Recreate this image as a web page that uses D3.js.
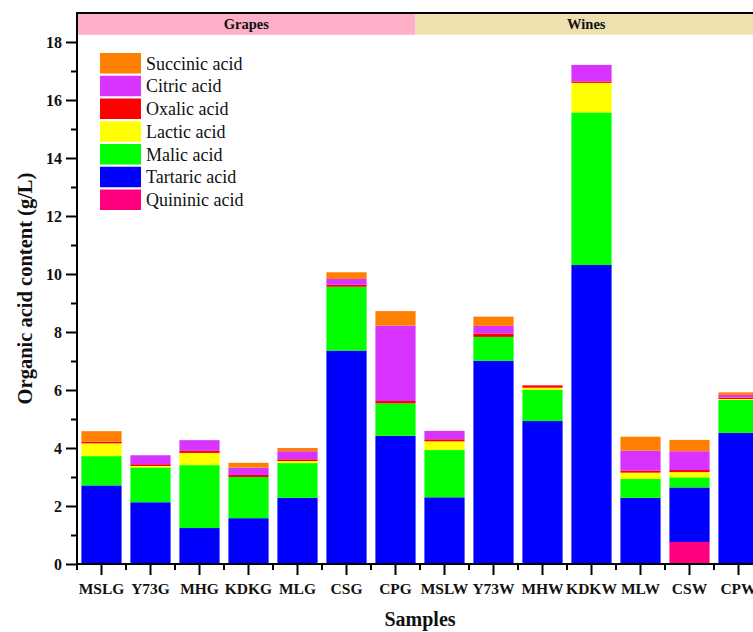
<!DOCTYPE html>
<html>
<head>
<meta charset="utf-8">
<script src="https://cdn.jsdelivr.net/npm/d3@7"></script>
<style>
  html, body { margin: 0; padding: 0; background: #fff; }
  svg { display: block; }
</style>
</head>
<body>
<svg id="chart" width="753" height="632"></svg>
<script>
// ---- Data ----
const samples = ["MSLG","Y73G","MHG","KDKG","MLG","CSG","CPG","MSLW","Y73W","MHW","KDKW","MLW","CSW","CPW"];
const groups = [
  { name: "Grapes", first: "MSLG", last: "CPG" },
  { name: "Wines",  first: "MSLW", last: "CPW" }
];
const acids = ["Quininic acid","Tartaric acid","Malic acid","Lactic acid","Oxalic acid","Citric acid","Succinic acid"];
const acidColors = ["#FF0080","#0000FF","#00FF00","#FFFF00","#FF0000","#D833FF","#FF8000"];

const quininic  = [0,    0,    0,    0,    0,    0,    0,    0.02, 0,    0,    0,     0,    0.76, 0.02];
const tartaric  = [2.71, 2.13, 1.24, 1.58, 2.28, 7.36, 4.42, 2.28, 7.01, 4.93, 10.31, 2.28, 1.88, 4.50];
const malic     = [1.01, 1.20, 2.17, 1.42, 1.20, 2.20, 1.12, 1.63, 0.82, 1.07, 5.26,  0.65, 0.35, 1.14];
const lactic    = [0.44, 0.05, 0.42, 0,    0.07, 0,    0,    0.30, 0,    0.08, 1.02,  0.22, 0.18, 0.03];
const oxalic    = [0.06, 0.06, 0.07, 0.07, 0.06, 0.07, 0.08, 0.07, 0.12, 0.08, 0.05,  0.07, 0.07, 0.05];
const citric    = [0,    0.31, 0.37, 0.25, 0.28, 0.20, 2.60, 0.29, 0.26, 0,    0.57,  0.69, 0.65, 0.09];
const succinic  = [0.36, 0,    0,    0.17, 0.11, 0.23, 0.50, 0,    0.32, 0,    0,     0.48, 0.39, 0.09];

const yTicks = [0,2,4,6,8,10,12,14,16,18];
const yMinorTicks = [1,3,5,7,9,11,13,15,17];
const yMax = 19;
const bandLow = 18.25;

const seriesValues = [quininic, tartaric, malic, lactic, oxalic, citric, succinic];
const rows = samples.map((s, i) => {
  const r = { sample: s };
  acids.forEach((a, k) => r[a] = seriesValues[k][i]);
  return r;
});

// ---- Layout ----
const svg = d3.select("#chart");
const pL = 77, pR = 763, pT = 13, pB = 564;
const serif = "'Liberation Serif', 'Times New Roman', serif";

const x = d3.scaleBand().domain(samples).range([pL, pR]).paddingInner(0.18).paddingOuter(0.09);
const y = d3.scaleLinear().domain([0, yMax]).range([pB, pT]);
const color = d3.scaleOrdinal().domain(acids).range(acidColors);

// ---- Group header bands ----
const bandColors = { Grapes: "#FFB0C8", Wines: "#EEE1B0" };
groups.forEach((g, gi) => {
  const x0 = gi === 0 ? pL : x(groups[gi - 1].last) + x.bandwidth();
  const x1 = gi === groups.length - 1 ? pR : x(g.last) + x.bandwidth();
  svg.append("rect")
    .attr("x", x0).attr("y", y(yMax))
    .attr("width", x1 - x0).attr("height", y(bandLow) - y(yMax))
    .attr("fill", bandColors[g.name]);
  svg.append("text")
    .attr("x", (x0 + x1) / 2 + (gi === 1 ? -3 : 0))
    .attr("y", (y(yMax) + y(bandLow)) / 2 + 5)
    .attr("text-anchor", "middle")
    .attr("font-family", serif).attr("font-weight", "bold").attr("font-size", "14.5px")
    .attr("fill", "#111")
    .text(g.name);
});

// ---- Stacked bars ----
const stack = d3.stack().keys(acids);
const stacked = stack(rows);
svg.append("g").selectAll("g")
  .data(stacked).join("g")
  .attr("fill", d => color(d.key))
  .selectAll("rect")
  .data(d => d).join("rect")
  .attr("x", d => x(d.data.sample))
  .attr("y", d => y(d[1]))
  .attr("width", x.bandwidth())
  .attr("height", d => Math.max(0, y(d[0]) - y(d[1])));

// ---- Axes ----
const yAxis = d3.axisLeft(y).tickValues(yTicks).tickSize(11).tickPadding(4).tickFormat(d3.format("d"));
const gy = svg.append("g").attr("transform", `translate(${pL},0)`).call(yAxis);
gy.select(".domain").remove();
gy.selectAll(".tick line").attr("stroke", "#000").attr("stroke-width", 2);
gy.selectAll(".tick text").attr("font-family", serif).attr("font-weight", "bold")
  .attr("font-size", "16px").attr("fill", "#111");
const yMinor = d3.axisLeft(y).tickValues(yMinorTicks).tickSize(6).tickFormat("");
const gym = svg.append("g").attr("transform", `translate(${pL},0)`).call(yMinor);
gym.select(".domain").remove();
gym.selectAll(".tick line").attr("stroke", "#000").attr("stroke-width", 2);

const xAxis = d3.axisBottom(x).tickSize(11).tickPadding(8);
const gx = svg.append("g").attr("transform", `translate(0,${pB})`).call(xAxis);
gx.select(".domain").remove();
gx.selectAll(".tick line").attr("stroke", "#000").attr("stroke-width", 2);
gx.selectAll(".tick text").attr("font-family", serif).attr("font-weight", "bold")
  .attr("font-size", "15.5px").attr("fill", "#111");

// minor x ticks at band boundaries
const boundaries = samples.map(s => x(s) - x.step() * x.paddingInner() / 2);
svg.append("g").selectAll("line").data(boundaries).join("line")
  .attr("x1", d => d).attr("x2", d => d)
  .attr("y1", pB).attr("y2", pB + 6)
  .attr("stroke", "#000").attr("stroke-width", 2);

// axis lines
svg.append("line").attr("x1", pL).attr("x2", pL).attr("y1", pT - 1).attr("y2", pB + 1)
  .attr("stroke", "#000").attr("stroke-width", 2);
svg.append("line").attr("x1", pL - 1).attr("x2", pR).attr("y1", pB).attr("y2", pB)
  .attr("stroke", "#000").attr("stroke-width", 2);
svg.append("line").attr("x1", pL - 1).attr("x2", pR).attr("y1", pT).attr("y2", pT)
  .attr("stroke", "#000").attr("stroke-width", 2);

// ---- Axis titles ----
svg.append("text")
  .attr("transform", `translate(32,${(pT + pB) / 2}) rotate(-90)`)
  .attr("text-anchor", "middle")
  .attr("font-family", serif).attr("font-weight", "bold").attr("font-size", "20.5px")
  .attr("fill", "#111")
  .text("Organic acid content (g/L)");
svg.append("text")
  .attr("x", (pL + pR) / 2).attr("y", 626)
  .attr("text-anchor", "middle")
  .attr("font-family", serif).attr("font-weight", "bold").attr("font-size", "20px")
  .attr("fill", "#111")
  .text("Samples");

// ---- Legend ----
const legendOrder = acids.slice().reverse();
const lg = svg.append("g").attr("transform", "translate(100,53)");
const lItems = lg.selectAll("g").data(legendOrder).join("g")
  .attr("transform", (d, i) => `translate(0,${i * 22.75})`);
lItems.append("rect").attr("width", 41).attr("height", 20.5).attr("fill", d => color(d));
lItems.append("text").attr("x", 46).attr("y", 16.5)
  .attr("font-family", serif).attr("font-size", "18px").attr("fill", "#111")
  .text(d => d);
</script>
</body>
</html>
